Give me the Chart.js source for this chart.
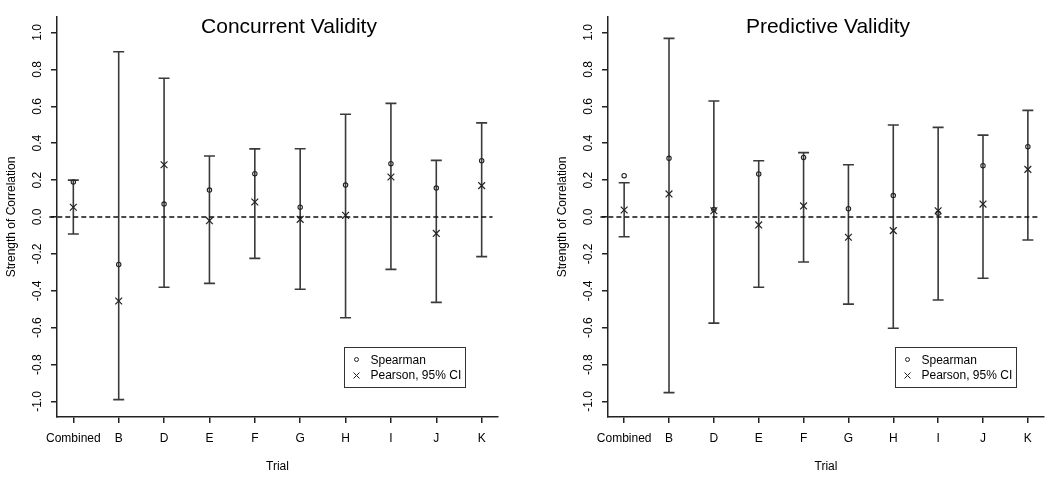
<!DOCTYPE html>
<html>
<head>
<meta charset="utf-8">
<script src="https://cdn.jsdelivr.net/npm/chart.js@4/dist/chart.umd.min.js"></script>
<style>
    html, body { margin: 0; padding: 0; background: #fff; overflow: hidden; }
    .panel { position: absolute; top: 0; height: 477px; }
    #left { left: 0; width: 510px; }
    #right { left: 551px; width: 499px; }
</style>
</head>
<body>
<div class="panel" id="left"><canvas id="concChart"></canvas></div>
<div class="panel" id="right"><canvas id="predChart"></canvas></div>
<script>
// Trials on the x axis
const trials = ['Combined', 'B', 'D', 'E', 'F', 'G', 'H', 'I', 'J', 'K'];
const yTicks = [-1.0, -0.8, -0.6, -0.4, -0.2, 0.0, 0.2, 0.4, 0.6, 0.8, 1.0];

// Concurrent validity
const concSpearman = [0.19, -0.257, 0.07, 0.146, 0.235, 0.053, 0.173, 0.289, 0.157, 0.305];
const concPearson = [0.053, -0.455, 0.283, -0.02, 0.081, -0.013, 0.009, 0.217, -0.089, 0.17];
const concLower = [-0.092, -0.99, -0.381, -0.36, -0.224, -0.392, -0.546, -0.284, -0.463, -0.215];
const concUpper = [0.2, 0.896, 0.752, 0.331, 0.369, 0.37, 0.557, 0.616, 0.307, 0.51];

// Predictive validity
const predSpearman = [0.224, 0.318, 0.04, 0.233, 0.323, 0.045, 0.116, 0.02, 0.278, 0.381];
const predPearson = [0.038, 0.125, 0.034, -0.043, 0.06, -0.11, -0.074, 0.034, 0.07, 0.258];
const predLower = [-0.107, -0.952, -0.575, -0.381, -0.244, -0.472, -0.603, -0.45, -0.332, -0.125];
const predUpper = [0.186, 0.968, 0.629, 0.305, 0.349, 0.283, 0.499, 0.486, 0.444, 0.578];

// dashed reference line at zero
const zeroLineX = [0.47, 10.24];

const FONT = '"Liberation Sans", Arial, sans-serif';
const INK = '#222';

// CI whiskers with caps
const errorBars = {
    id: 'errorBars',
    beforeDatasetsDraw(chart, args, opts) {
        const { ctx, scales: { x, y } } = chart;
        ctx.save();
        ctx.strokeStyle = '#3a3a3a';
        ctx.lineWidth = 1.6;
        opts.lo.forEach((l, i) => {
            const px = x.getPixelForValue(i + 1);
            const yl = y.getPixelForValue(l);
            const yh = y.getPixelForValue(opts.hi[i]);
            const c = 5.5;
            ctx.beginPath();
            ctx.moveTo(px, yl); ctx.lineTo(px, yh);
            ctx.moveTo(px - c, yl); ctx.lineTo(px + c, yl);
            ctx.moveTo(px - c, yh); ctx.lineTo(px + c, yh);
            ctx.stroke();
        });
        ctx.restore();
    }
};

// title, rotated y tick labels and boxed legend
const decorations = {
    id: 'decorations',
    afterDraw(chart, args, opts) {
        const { ctx, chartArea: area, scales: { y } } = chart;
        ctx.save();
        ctx.fillStyle = '#000';

        // title
        ctx.font = '21px ' + FONT;
        ctx.textAlign = 'center';
        ctx.textBaseline = 'alphabetic';
        ctx.fillText(opts.title, area.left + opts.titleOffset, 33);

        // y tick labels, rotated
        ctx.font = '12px ' + FONT;
        ctx.textBaseline = 'middle';
        y.ticks.forEach(t => {
            const py = y.getPixelForValue(t.value);
            ctx.save();
            ctx.translate(38, py);
            ctx.rotate(-Math.PI / 2);
            ctx.fillText(Math.abs(t.value) < 1e-9 ? '0.0' : t.value.toFixed(1), 0, 0);
            ctx.restore();
        });

        // legend
        const bx = area.left + 287.5, by = 347.5;
        ctx.strokeStyle = '#333';
        ctx.lineWidth = 1;
        ctx.strokeRect(bx, by, 121, 40);
        const ds = chart.data.datasets;
        ctx.textAlign = 'left';
        ctx.fillText(ds[0].label, bx + 26, by + 13);
        ctx.fillText(ds[1].label, bx + 26, by + 28.5);
        ctx.strokeStyle = INK;
        ctx.beginPath();
        ctx.arc(bx + 12, by + 12, 2, 0, Math.PI * 2);
        ctx.stroke();
        const cx = bx + 12, cy = by + 28;
        ctx.beginPath();
        ctx.moveTo(cx - 3, cy - 3); ctx.lineTo(cx + 3, cy + 3);
        ctx.moveTo(cx + 3, cy - 3); ctx.lineTo(cx - 3, cy + 3);
        ctx.stroke();
        ctx.restore();
    }
};

function makePanel(id, title, titleOffset, spearman, pearson, lo, hi, padRight) {
    const ctx = document.getElementById(id).getContext('2d');
    return new Chart(ctx, {
        type: 'scatter',
        data: {
            datasets: [
                {
                    label: 'Spearman',
                    data: spearman.map((v, i) => ({ x: i + 1, y: v })),
                    pointStyle: 'circle',
                    pointRadius: 2.2,
                    borderColor: INK,
                    borderWidth: 1.1,
                    backgroundColor: 'rgba(0,0,0,0)'
                },
                {
                    label: 'Pearson, 95% CI',
                    data: pearson.map((v, i) => ({ x: i + 1, y: v })),
                    pointStyle: 'crossRot',
                    pointRadius: 4.8,
                    borderColor: INK,
                    borderWidth: 1.2
                },
                {
                    label: 'zero',
                    type: 'line',
                    data: zeroLineX.map(x => ({ x: x, y: 0 })),
                    borderColor: '#111',
                    borderWidth: 1.6,
                    borderDash: [5, 3],
                    pointRadius: 0,
                    clip: false
                }
            ]
        },
        options: {
            responsive: true,
            maintainAspectRatio: false,
            animation: false,
            events: [],
            layout: { padding: { top: 17, right: padRight, left: 0, bottom: 0 } },
            plugins: {
                legend: { display: false },
                tooltip: { enabled: false },
                errorBars: { lo: lo, hi: hi },
                decorations: { title: title, titleOffset: titleOffset }
            },
            scales: {
                x: {
                    type: 'linear',
                    min: 0.64,
                    max: 10.36,
                    afterBuildTicks: s => { s.ticks = trials.map((t, i) => ({ value: i + 1 })); },
                    afterFit: s => { s.height = 60; },
                    ticks: {
                        callback: v => trials[v - 1],
                        color: '#000',
                        font: { family: FONT, size: 12 },
                        padding: 8,
                        maxRotation: 0,
                        autoSkip: false
                    },
                    grid: { display: true, drawOnChartArea: false, drawTicks: true, tickLength: 6, color: INK, lineWidth: 1.5 },
                    border: { display: true, color: INK, width: 1.5 },
                    title: { display: true, text: 'Trial', color: '#000', font: { family: FONT, size: 12 }, padding: { top: 0, bottom: 3 } }
                },
                y: {
                    min: -1.084,
                    max: 1.084,
                    afterBuildTicks: s => { s.ticks = yTicks.map(v => ({ value: v })); },
                    afterFit: s => { s.width = 57; },
                    ticks: { display: false },
                    grid: { display: true, drawOnChartArea: false, drawTicks: true, tickLength: 6, color: INK, lineWidth: 1.5 },
                    border: { display: true, color: INK, width: 1.5 },
                    title: { display: true, text: 'Strength of Correlation', color: '#000', font: { family: FONT, size: 12 }, padding: { top: 4, bottom: 0 } }
                }
            }
        },
        plugins: [errorBars, decorations]
    });
}

makePanel('concChart', 'Concurrent Validity', 232, concSpearman, concPearson, concLower, concUpper, 12);
makePanel('predChart', 'Predictive Validity', 220, predSpearman, predPearson, predLower, predUpper, 2);
</script>
</body>
</html>
